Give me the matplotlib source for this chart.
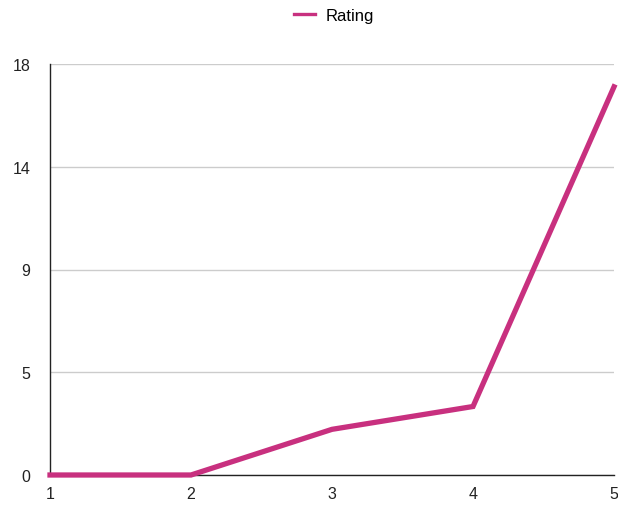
#!/usr/bin/env python3

import matplotlib
matplotlib.use("Agg")
import matplotlib.pyplot as plt

# chart data
xs = [1, 2, 3, 4, 5]
ratings = [0, 0, 2, 3, 17]
ytick_values = [0, 4.5, 9, 13.5, 18]
ytick_labels = ["0", "5", "9", "14", "18"]

color = "#c8307f"

plt.rcParams["font.family"] = ["Liberation Sans", "DejaVu Sans"]

fig = plt.figure(figsize=(6.18, 5.06), dpi=100)
ax = fig.add_axes([50 / 618, 1 - 476 / 506, 564 / 618, 411 / 506])

line, = ax.plot(xs, ratings, color=color, linewidth=3.8, label="Rating",
                solid_joinstyle="miter", clip_on=False, zorder=3)

ax.set_xlim(1, 5)
ax.set_ylim(0, 18)
ax.set_xticks(xs)
ax.set_xticklabels([str(x) for x in xs])
ax.set_yticks(ytick_values)
ax.set_yticklabels(ytick_labels)
ax.tick_params(length=0, labelsize=11.5, colors="#222222")
ax.tick_params(axis="y", pad=14)
ax.tick_params(axis="x", pad=8)

ax.grid(axis="y", color="#cccccc", linewidth=1)
ax.set_axisbelow(True)
for side in ["top", "right"]:
    ax.spines[side].set_visible(False)
for side in ["left", "bottom"]:
    ax.spines[side].set_color("#222222")
    ax.spines[side].set_linewidth(1)

leg = fig.legend(loc="upper center", bbox_to_anchor=(0.54, 1.012), frameon=False,
                 fontsize=12, handlelength=1.3, handletextpad=0.6)
for h in leg.get_lines():
    h.set_linewidth(2.4)

fig.savefig("out.png", dpi=100)
